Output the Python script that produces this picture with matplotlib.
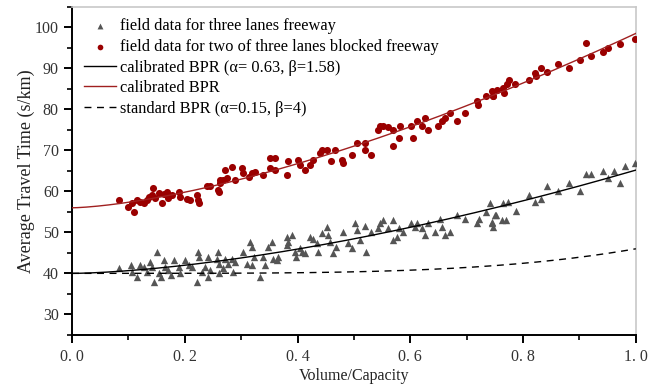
import numpy as np
import matplotlib
matplotlib.use("Agg")
import matplotlib.pyplot as plt
from matplotlib.ticker import MultipleLocator, FixedLocator, FixedFormatter

# field data, three lanes freeway
vc_three = [0.083, 0.105, 0.106, 0.115, 0.121, 0.127, 0.133, 0.139, 0.142, 0.145,
            0.150, 0.154, 0.157, 0.163, 0.165, 0.171, 0.176, 0.180, 0.189, 0.192,
            0.201, 0.207, 0.213, 0.222, 0.223, 0.226, 0.230, 0.236, 0.242, 0.242,
            0.245, 0.258, 0.260, 0.260, 0.257, 0.268, 0.271, 0.277, 0.283, 0.289,
            0.286, 0.304, 0.310, 0.316, 0.319, 0.322, 0.319, 0.333, 0.339, 0.342,
            0.348, 0.354, 0.357, 0.363, 0.366, 0.381, 0.383, 0.390, 0.381, 0.395,
            0.398, 0.404, 0.407, 0.413, 0.422, 0.428, 0.434, 0.437, 0.443, 0.452,
            0.454, 0.457, 0.463, 0.469, 0.481, 0.490, 0.502, 0.505, 0.496, 0.511,
            0.520, 0.521, 0.531, 0.543, 0.546, 0.552, 0.561, 0.569, 0.570, 0.576,
            0.580, 0.587, 0.602, 0.608, 0.611, 0.620, 0.626, 0.632, 0.644, 0.652,
            0.656, 0.661, 0.670, 0.683, 0.697, 0.718, 0.722, 0.735, 0.741, 0.744,
            0.752, 0.750, 0.744, 0.747, 0.765, 0.774, 0.762, 0.769, 0.787, 0.811,
            0.821, 0.831, 0.842, 0.862, 0.881, 0.901, 0.911, 0.921, 0.941, 0.951,
            0.961, 0.972, 0.980, 0.998]
tt_three = [41.2, 42.0, 40.4, 39.1, 42.0, 41.6, 40.4, 42.8, 41.6, 37.9,
            45.1, 40.0, 39.1, 43.2, 41.6, 40.8, 39.5, 43.2, 41.6, 40.0,
            43.2, 42.0, 41.6, 37.9, 45.1, 44.0, 40.4, 41.6, 44.0, 39.1,
            40.8, 45.1, 42.4, 40.0, 43.6, 41.2, 43.6, 42.4, 43.6, 42.8,
            40.4, 45.3, 42.4, 47.7, 46.5, 44.0, 42.0, 39.1, 44.0, 42.0,
            46.5, 47.7, 43.6, 43.2, 44.0, 48.9, 47.7, 49.3, 46.9, 45.3,
            44.0, 46.1, 45.3, 44.9, 48.9, 48.5, 47.3, 45.3, 49.8, 51.4,
            49.3, 47.7, 44.9, 46.5, 50.2, 47.3, 52.2, 50.6, 46.1, 48.1,
            51.5, 45.3, 50.2, 51.0, 52.2, 53.0, 51.0, 53.0, 48.1, 48.9,
            51.0, 50.2, 52.2, 51.4, 52.2, 51.0, 49.3, 52.2, 50.2, 53.2,
            51.4, 49.3, 50.2, 54.2, 53.2, 52.2, 53.2, 55.0, 57.1, 52.2,
            54.2, 54.2, 52.6, 51.4, 57.1, 57.3, 53.0, 53.0, 55.3, 59.1,
            57.3, 58.2, 61.2, 60.2, 62.1, 60.1, 64.3, 64.2, 65.1, 63.2,
            65.1, 62.1, 66.1, 67.0]

# field data, two of three lanes blocked
vc_blocked = [0.083, 0.099, 0.110, 0.106, 0.115, 0.121, 0.127, 0.133, 0.137, 0.142,
              0.144, 0.148, 0.154, 0.160, 0.163, 0.168, 0.171, 0.177, 0.189, 0.192,
              0.204, 0.210, 0.222, 0.223, 0.225, 0.239, 0.245, 0.260, 0.263, 0.259,
              0.262, 0.268, 0.271, 0.274, 0.283, 0.289, 0.301, 0.304, 0.313, 0.319,
              0.324, 0.339, 0.351, 0.360, 0.351, 0.360, 0.381, 0.383, 0.401, 0.404,
              0.413, 0.422, 0.428, 0.440, 0.443, 0.452, 0.460, 0.466, 0.478, 0.481,
              0.505, 0.496, 0.520, 0.520, 0.531, 0.543, 0.546, 0.552, 0.561, 0.570,
              0.569, 0.579, 0.582, 0.602, 0.605, 0.611, 0.620, 0.626, 0.632, 0.649,
              0.656, 0.661, 0.670, 0.682, 0.697, 0.718, 0.720, 0.735, 0.744, 0.747,
              0.753, 0.746, 0.765, 0.766, 0.771, 0.775, 0.785, 0.811, 0.821, 0.823,
              0.831, 0.842, 0.862, 0.881, 0.901, 0.911, 0.921, 0.941, 0.951, 0.972,
              0.998]
tt_blocked = [57.9, 56.1, 55.0, 57.1, 57.9, 57.5, 57.1, 57.9, 58.7, 59.1,
              60.9, 58.3, 59.5, 57.1, 59.4, 59.9, 58.3, 59.1, 59.9, 58.7,
              58.1, 57.9, 59.1, 57.9, 57.1, 61.2, 61.2, 59.9, 62.8, 60.4,
              62.0, 62.8, 65.2, 63.2, 65.9, 62.8, 65.7, 64.4, 63.5, 64.4,
              64.8, 64.0, 68.1, 68.1, 65.7, 65.2, 64.0, 67.3, 67.7, 66.5,
              65.2, 66.5, 67.7, 69.3, 70.1, 70.0, 67.3, 70.0, 67.7, 67.0,
              71.9, 68.9, 71.9, 70.1, 68.9, 75.0, 76.0, 76.0, 75.8, 75.0,
              71.0, 73.0, 76.0, 76.0, 73.0, 77.1, 76.0, 78.0, 75.0, 76.0,
              77.1, 78.0, 79.1, 77.1, 79.1, 82.0, 81.2, 83.2, 84.4, 83.2,
              84.8, 83.2, 85.2, 84.0, 86.3, 87.1, 86.1, 87.1, 88.9, 88.1,
              90.0, 89.1, 91.1, 90.0, 92.0, 96.1, 93.0, 94.1, 95.0, 96.0,
              97.1]

# BPR model parameters: t0, alpha, beta
bpr_three = [40.0, 0.63, 1.58]
bpr_blocked = [56.0, 0.76, 1.5]
bpr_standard = [40.0, 0.15, 4.0]

x_ticks = [0.0, 0.2, 0.4, 0.6, 0.8, 1.0]
x_tick_labels = ["0. 0", "0. 2", "0. 4", "0. 6", "0. 8", "1. 0"]
y_ticks = [30, 40, 50, 60, 70, 80, 90, 100]


def bpr(x, p):
    t0, a, b = p
    return t0 * (1 + a * x ** b)


plt.rcParams["font.family"] = ["Liberation Serif", "DejaVu Serif"]

fig = plt.figure(figsize=(6.61, 3.88), dpi=100)
ax = fig.add_axes([0.109, 0.137, 0.853, 0.845])

xs = np.linspace(0, 1, 200)
ax.scatter(vc_three, tt_three, marker="^", s=28, color="#555555", linewidths=0,
           label="field data for three lanes freeway", zorder=3)
ax.scatter(vc_blocked, tt_blocked, marker="o", s=26, color="#9a0000", linewidths=0,
           label="field data for two of three lanes blocked freeway", zorder=3)
ax.plot(xs, bpr(xs, bpr_three), color="black", lw=1.0,
        label="calibrated BPR (\u03b1= 0.63, \u03b2=1.58)", zorder=4)
ax.plot(xs, bpr(xs, bpr_blocked), color="#a02020", lw=1.0,
        label="calibrated BPR", zorder=4)
ax.plot(xs, bpr(xs, bpr_standard), color="black", lw=1.0, ls=(0, (5, 4)),
        label="standard BPR (\u03b1=0.15, \u03b2=4)", zorder=4)

ax.set_xlim(0, 1)
ax.set_ylim(25, 105)
ax.xaxis.set_major_locator(FixedLocator(x_ticks))
ax.xaxis.set_major_formatter(FixedFormatter(x_tick_labels))
ax.xaxis.set_minor_locator(MultipleLocator(0.1))
ax.yaxis.set_minor_locator(MultipleLocator(5))
ax.set_yticks(y_ticks)

for s in ["top", "right"]:
    ax.spines[s].set_color("#c8c8c8")
    ax.spines[s].set_linewidth(1.2)
for s in ["left", "bottom"]:
    ax.spines[s].set_linewidth(1.4)
ax.tick_params(which="major", direction="out", length=6, width=1.4,
               labelsize=11.5, colors="black", labelcolor="#333333")
ax.tick_params(which="minor", direction="out", length=3.5, width=1.2)
ax.tick_params(axis="x", pad=4)

ax.set_xlabel("Volume/Capacity", fontsize=11.5, color="#222222", labelpad=2)
ax.set_ylabel("Average Travel Time (s/km)", fontsize=13, color="#222222", labelpad=0)

ax.legend(loc="upper left", frameon=False, fontsize=11.8, handlelength=2.0,
          handletextpad=0.2, labelspacing=0.28, borderaxespad=0.3,
          bbox_to_anchor=(0.0, 1.0), markerscale=0.8)

fig.savefig("out.png", dpi=100)
